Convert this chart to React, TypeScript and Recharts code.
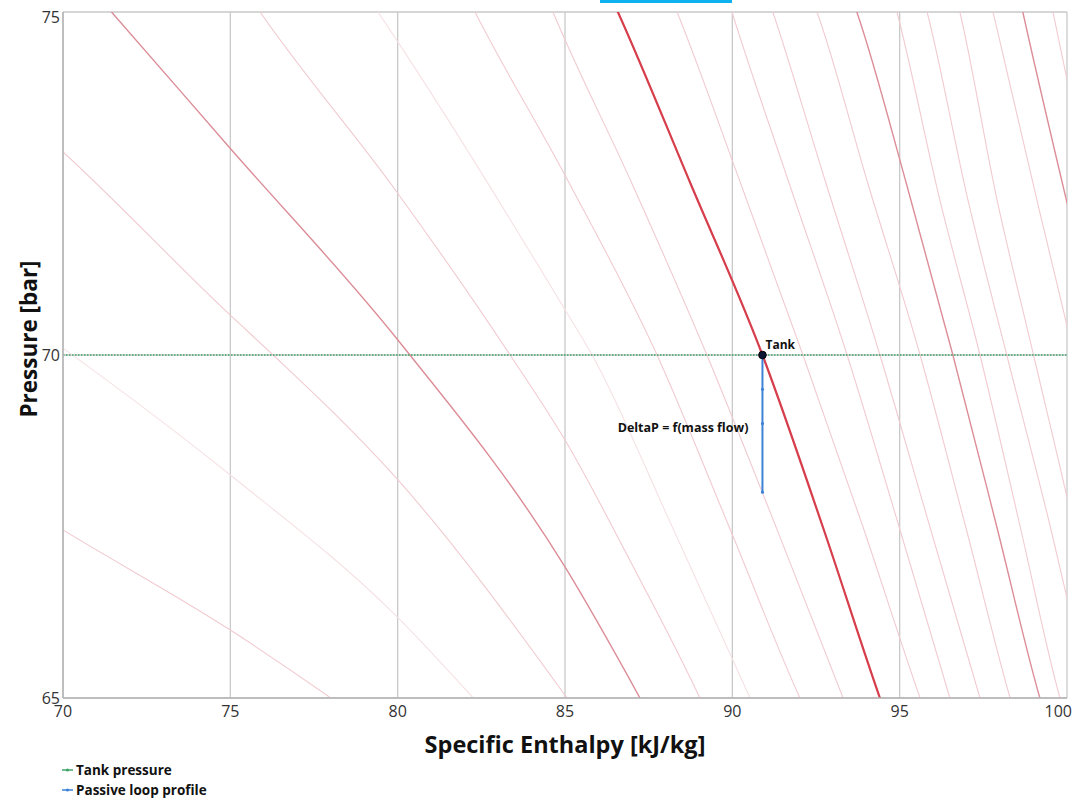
import React from 'react';
import { LineChart, Line, XAxis, YAxis, CartesianGrid, LabelList } from 'recharts';

const FONT = "'Open Sans', 'Noto Sans', 'DejaVu Sans', sans-serif";

// Axis ticks
const enthalpyTicks = [70, 75, 80, 85, 90, 95, 100];
const pressureTicks = [65, 70, 75];

// Operating points
const tankEnthalpy = 90.9;
const tankPressure = 70;
const tankLineEnthalpy = [70, 100];
const loopPressures = [70, 69.5, 69.0, 68.0];

// Isotherm traces, [enthalpy kJ/kg, pressure bar]
const iso01 = [[69, 67.75], [70, 67.45], [75, 65.99], [78.0, 65.0], [79, 64.65]];
const iso02 = [[69, 70.45], [70, 70.1], [75, 68.25], [79.97, 66.19], [82.26, 65.0], [83, 64.6]];
const iso03 = [[69, 73.4], [70, 72.96], [75, 70.58], [76.28, 70.0], [79.97, 68.2], [85.0, 65.04], [85.5, 64.7]];
const iso04 = [[71.0, 75.25], [71.45, 75], [75, 73.01], [79.97, 70.24], [85.0, 66.91], [87.24, 65.0], [87.8, 64.5]];
const iso05 = [[75.4, 75.35], [75.89, 75], [79.97, 72.38], [83.36, 70.0], [85, 68.76], [87, 66.95], [89.03, 65.0], [89.5, 64.5]];
const iso06 = [[79.0, 75.3], [79.41, 75], [79.97, 74.59], [85, 70.66], [85.81, 70], [88.2, 67.5], [90.53, 65], [91, 64.5]];
const iso07 = [[82.0, 75.3], [82.31, 75], [85, 72.62], [87.75, 70], [89.9, 67.5], [92.02, 65], [92.4, 64.6]];
const iso08 = [[84.3, 75.4], [84.64, 75], [87.0, 72.5], [89.24, 70], [91.3, 67.5], [93.31, 65], [93.7, 64.5]];
const iso09 = [[86.3, 75.3], [86.58, 75], [88.75, 72.5], [90.9, 70], [92.7, 67.5], [94.41, 65], [94.7, 64.6]];
const iso10 = [[88.1, 75.3], [88.35, 75], [90.25, 72.5], [92.11, 70], [93.9, 67.5], [95.61, 65], [95.9, 64.6]];
const iso11 = [[89.8, 75.3], [89.99, 75], [91.7, 72.5], [93.43, 70], [94.98, 67.5], [96.5, 65], [96.8, 64.5]];
const iso12 = [[91.0, 75.3], [91.21, 75], [92.8, 72.5], [94.41, 70], [95.9, 67.5], [97.4, 65], [97.7, 64.5]];
const iso13 = [[92.3, 75.3], [92.53, 75], [94.05, 72.5], [95.61, 70], [96.97, 67.5], [98.3, 65], [98.6, 64.5]];
const iso14 = [[93.5, 75.3], [93.72, 75], [95.2, 72.5], [96.59, 70], [97.9, 67.5], [99.19, 65], [99.5, 64.5]];
const iso15 = [[94.7, 75.4], [94.92, 75], [96.2, 72.26], [97.4, 70], [98.6, 67.5], [99.79, 65], [100.1, 64.5]];
const iso16 = [[95.6, 75.4], [95.82, 75], [97.04, 72.26], [98.2, 70], [99.5, 67.5], [100.7, 65]];
const iso17 = [[96.6, 75.4], [96.8, 75], [97.91, 72.26], [99.0, 70], [100.2, 67.5], [101.3, 65]];
const iso18 = [[97.6, 75.4], [97.79, 75], [99.1, 72.26], [100.2, 70], [101.3, 67.5]];
const iso19 = [[98.5, 75.4], [98.68, 75], [100.03, 72.16], [101.1, 70]];
const iso20 = [[99.4, 75.4], [99.58, 75], [100.05, 73.9], [101.0, 71.8]];

type Pt = { h: number; p: number };
const toPts = (rows: number[][]): Pt[] => rows.map(([h, p]) => ({ h, p }));

const STYLE = {
  bold: { stroke: '#d63e4b', strokeWidth: 2.2 },
  medium: { stroke: '#dc8d97', strokeWidth: 1.4 },
  faint: { stroke: '#f1cbd0', strokeWidth: 1.1 },
  light: { stroke: '#f6e1e4', strokeWidth: 1.1 },
};

const isotherms: { id: string; rows: number[][]; kind: keyof typeof STYLE }[] = [
  { id: 'iso01', rows: iso01, kind: 'faint' },
  { id: 'iso02', rows: iso02, kind: 'light' },
  { id: 'iso03', rows: iso03, kind: 'faint' },
  { id: 'iso04', rows: iso04, kind: 'medium' },
  { id: 'iso05', rows: iso05, kind: 'faint' },
  { id: 'iso06', rows: iso06, kind: 'light' },
  { id: 'iso07', rows: iso07, kind: 'faint' },
  { id: 'iso08', rows: iso08, kind: 'faint' },
  { id: 'iso09', rows: iso09, kind: 'bold' },
  { id: 'iso10', rows: iso10, kind: 'faint' },
  { id: 'iso11', rows: iso11, kind: 'faint' },
  { id: 'iso12', rows: iso12, kind: 'faint' },
  { id: 'iso13', rows: iso13, kind: 'faint' },
  { id: 'iso14', rows: iso14, kind: 'medium' },
  { id: 'iso15', rows: iso15, kind: 'faint' },
  { id: 'iso16', rows: iso16, kind: 'faint' },
  { id: 'iso17', rows: iso17, kind: 'faint' },
  { id: 'iso18', rows: iso18, kind: 'faint' },
  { id: 'iso19', rows: iso19, kind: 'medium' },
  { id: 'iso20', rows: iso20, kind: 'faint' },
];

const tankLine: Pt[] = tankLineEnthalpy.map((h) => ({ h, p: tankPressure }));
const loopLine: Pt[] = loopPressures.map((p) => ({ h: tankEnthalpy, p }));
const tankPoint: Pt[] = [{ h: tankEnthalpy, p: tankPressure }];

const GREEN = '#3fa56a';
const BLUE = '#3d82d6';

const LegendIcon = ({ color }: { color: string }) => (
  <svg width={12} height={8} style={{ marginRight: 2 }}>
    <line x1={0} y1={4} x2={11} y2={4} stroke={color} strokeWidth={1.5} />
    <circle cx={5.5} cy={4} r={1.6} fill={color} />
  </svg>
);

// Enthalpy tick: the last label is right-aligned so it stays inside the page
const EnthalpyTick = (props: any) => {
  const { x, y, payload } = props;
  const last = payload.value === enthalpyTicks[enthalpyTicks.length - 1];
  return (
    <text
      x={last ? x + 5 : x}
      y={y}
      dy="0.71em"
      textAnchor={last ? 'end' : 'middle'}
      fill="#333"
      fontSize={16}
      fontFamily={FONT}
    >
      {payload.value}
    </text>
  );
};

export default function App() {
  return (
    <div style={{ position: 'relative', width: 1073, height: 791, fontFamily: FONT }}>
      <style>{`.recharts-surface { overflow: visible; }`}</style>
      <div style={{ position: 'fixed', left: 600, top: 0, width: 132, height: 3, background: '#0fb1ef', zIndex: 10 }} />
      <LineChart width={1073} height={791} margin={{ top: 4, right: 14, bottom: 71, left: 10 }}>
        <CartesianGrid stroke="#c9c9c9" strokeWidth={1.3} />
        <XAxis
          type="number"
          dataKey="h"
          domain={[70, 100]}
          ticks={enthalpyTicks}
          allowDataOverflow
          height={30}
          tickSize={0}
          tickMargin={8}
          stroke="#b5b5b5"
          strokeWidth={1.5}
          tick={<EnthalpyTick />}
          label={{
            content: (props: any) => {
              const vb = props.viewBox || { x: 55, y: 690, width: 1004 };
              return (
                <text
                  x={vb.x + vb.width / 2}
                  y={vb.y + 46}
                  textAnchor="middle"
                  dominantBaseline="central"
                  fontFamily={FONT}
                  fontWeight={700}
                  fontSize={23.5}
                  fill="#111"
                >
                  Specific Enthalpy [kJ/kg]
                </text>
              );
            },
          }}
        />
        <YAxis
          type="number"
          dataKey="p"
          domain={[65, 75]}
          ticks={pressureTicks}
          allowDataOverflow
          width={45}
          tickSize={0}
          tickMargin={3}
          stroke="#b5b5b5"
          strokeWidth={1.5}
          tick={{ fill: '#333', fontSize: 16, fontFamily: FONT }}
          label={{
            content: (props: any) => {
              const vb = props.viewBox || { x: 10, y: 4, height: 686 };
              const cx = vb.x + 10;
              const cy = vb.y + vb.height / 2 - 16;
              return (
                <text
                  x={cx}
                  y={cy}
                  transform={`rotate(-90 ${cx} ${cy})`}
                  textAnchor="middle"
                  dominantBaseline="central"
                  fontFamily={FONT}
                  fontWeight={700}
                  fontSize={22.5}
                  fill="#111"
                >
                  Pressure [bar]
                </text>
              );
            },
          }}
        />
        {isotherms.map((iso) => (
          <Line
            key={iso.id}
            data={toPts(iso.rows)}
            dataKey="p"
            type="monotone"
            dot={false}
            activeDot={false}
            isAnimationActive={false}
            stroke={STYLE[iso.kind].stroke}
            strokeWidth={STYLE[iso.kind].strokeWidth}
          />
        ))}
        <Line
          data={tankLine}
          dataKey="p"
          type="linear"
          dot={false}
          activeDot={false}
          isAnimationActive={false}
          stroke={GREEN}
          strokeWidth={1.6}
          strokeDasharray="1.5 1.5"
        />
        <Line
          data={loopLine}
          dataKey="p"
          type="linear"
          dot={{ r: 1.6, fill: BLUE, stroke: BLUE, strokeWidth: 0 }}
          activeDot={false}
          isAnimationActive={false}
          stroke={BLUE}
          strokeWidth={2}
        >
          <LabelList
            dataKey="p"
            content={(props: any) => {
              if (props.index !== 2) return null;
              return (
                <text
                  x={props.x - 14}
                  y={props.y + 8}
                  textAnchor="end"
                  fontFamily={FONT}
                  fontWeight={700}
                  fontSize={12.5}
                  fill="#111"
                >
                  DeltaP = f(mass flow)
                </text>
              );
            }}
          />
        </Line>
        <Line
          data={tankPoint}
          dataKey="p"
          type="linear"
          dot={{ r: 3.8, fill: '#0d1733', stroke: '#000', strokeWidth: 1 }}
          activeDot={false}
          isAnimationActive={false}
          stroke="none"
        >
          <LabelList
            dataKey="p"
            content={(props: any) => (
              <text
                x={props.x + 3}
                y={props.y - 6}
                textAnchor="start"
                fontFamily={FONT}
                fontWeight={700}
                fontSize={12}
                fill="#111"
              >
                Tank
              </text>
            )}
          />
        </Line>
      </LineChart>
      <div style={{ position: 'absolute', left: 54, top: 752, fontSize: 13.5, fontWeight: 700, color: '#111', lineHeight: '20px' }}>
        <div style={{ display: 'flex', alignItems: 'center' }}>
          <LegendIcon color={GREEN} />
          <span>Tank pressure</span>
        </div>
        <div style={{ display: 'flex', alignItems: 'center' }}>
          <LegendIcon color={BLUE} />
          <span>Passive loop profile</span>
        </div>
      </div>
    </div>
  );
}
